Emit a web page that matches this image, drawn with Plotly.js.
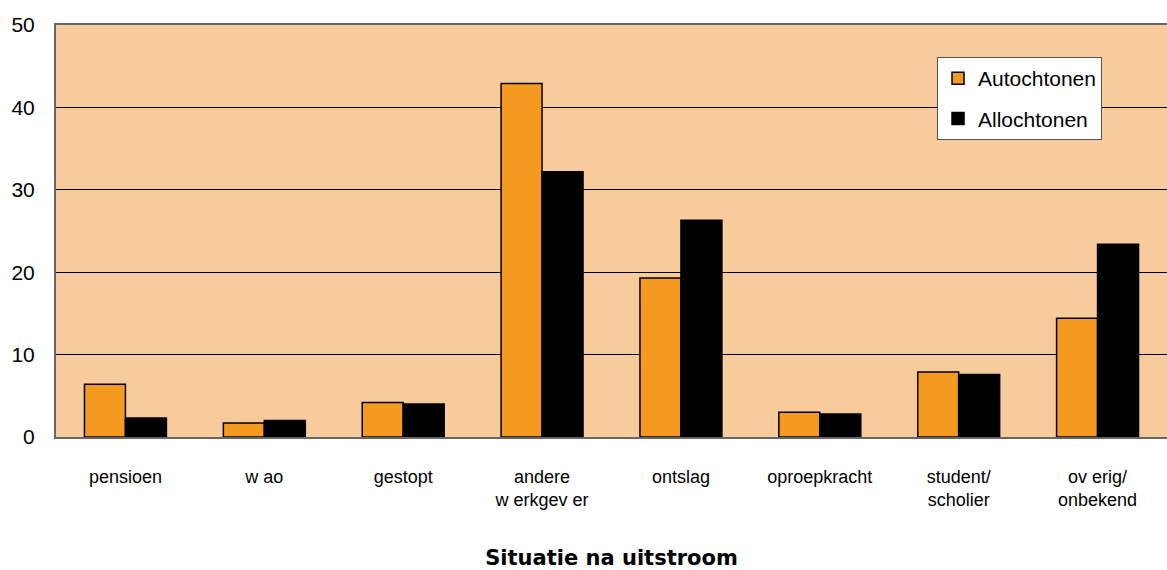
<!DOCTYPE html>
<html>
<head>
<meta charset="utf-8">
<script src="https://cdn.plot.ly/plotly-3.0.1.min.js"></script>
<style>html,body{margin:0;padding:0;background:#fff;}#chart{width:1167px;height:570px;}</style>
</head>
<body>
<div id="chart"></div>
<script>
const categories = ["pensioen", "w ao", "gestopt", "andere<br>w erkgev er", "ontslag", "oproepkracht", "student/<br>scholier", "ov erig/<br>onbekend"];
const autochtonen = [6.4, 1.7, 4.2, 42.9, 19.3, 3.0, 7.9, 14.4];
const allochtonen = [2.3, 2.0, 4.0, 32.2, 26.3, 2.8, 7.6, 23.4];
const yTicks = [0, 10, 20, 30, 40, 50];

const traces = [
  {type: 'bar', name: 'Autochtonen', x: categories, y: autochtonen, legendgroup: 'a',
   marker: {color: '#F39A1F', line: {color: '#000', width: 1.5}}, hoverinfo: 'x+y'},
  {type: 'bar', name: 'Allochtonen', x: categories, y: allochtonen, legendgroup: 'b',
   marker: {color: '#000000', line: {color: '#000', width: 1.5}}, hoverinfo: 'x+y'}
];

const layout = {
  width: 1167, height: 570,
  margin: {l: 56, r: 0, t: 25, b: 133},
  paper_bgcolor: '#ffffff',
  plot_bgcolor: '#F8CB9C',
  barmode: 'group',
  bargap: 0.41,
  bargroupgap: 0,
  font: {family: 'Liberation Sans, Arial, sans-serif', color: '#000'},
  showlegend: true,
  legend: {
    x: 0.793, y: 0.922, xanchor: 'left', yanchor: 'top',
    bgcolor: '#ffffff', bordercolor: '#555', borderwidth: 1,
    font: {size: 21, color: '#000'},
    traceorder: 'grouped', tracegroupgap: 10,
    itemwidth: 30
  },
  xaxis: {
    type: 'category',
    tickfont: {size: 18, family: 'Liberation Sans, Arial, sans-serif'},
    ticks: '', ticklen: 0,
    ticklabelstandoff: 22,
    showline: true, linecolor: '#666', linewidth: 2, mirror: true,
    title: {text: 'Situatie na uitstroom', font: {size: 21, family: 'DejaVu Sans, sans-serif', weight: 'bold'}, standoff: 50},
    fixedrange: true
  },
  yaxis: {
    range: [0, 50],
    tickvals: yTicks,
    ticktext: yTicks.map(String),
    tickfont: {size: 21},
    showgrid: true, gridcolor: '#000', gridwidth: 1,
    zeroline: false,
    showline: true, linecolor: '#666', linewidth: 2, mirror: true,
    ticks: '', ticklabelstandoff: 15,
    fixedrange: true
  }
};

Plotly.newPlot('chart', traces, layout, {displayModeBar: false, staticPlot: true});
</script>
</body>
</html>
